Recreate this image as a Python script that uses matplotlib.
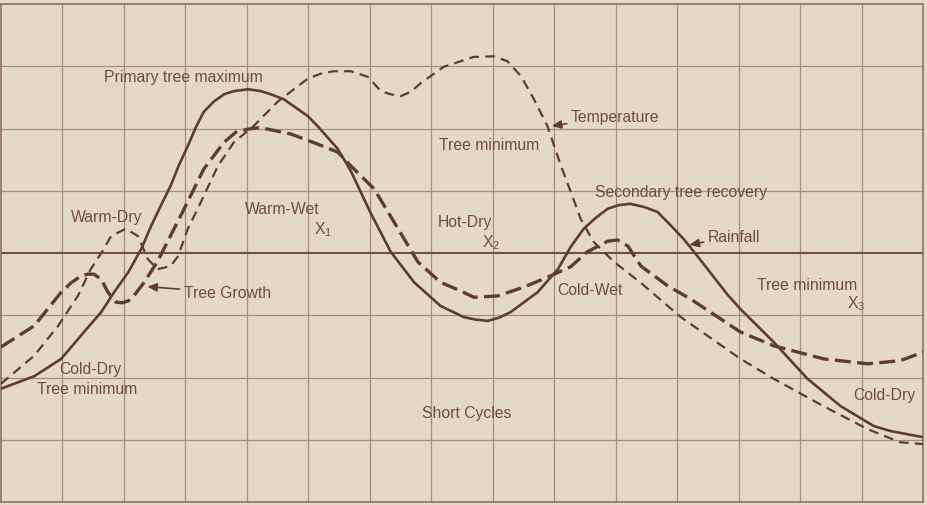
import numpy as np
import matplotlib.pyplot as plt

plt.rcParams['font.family'] = ['Liberation Sans', 'DejaVu Sans']
plt.rcParams['mathtext.default'] = 'regular'

# time in grid units (0-15), deviation from mean in grid units (-4..4)
tree_x = [0.00, 0.54, 0.98, 1.35, 1.63, 1.84, 2.07, 2.28, 2.44, 2.60, 2.76, 2.89, 3.04, 3.17,
          3.30, 3.46, 3.63, 3.79, 4.02, 4.23, 4.39, 4.60, 4.76, 4.99, 5.15, 5.48, 5.69, 6.02,
          6.34, 6.72, 7.15, 7.53, 7.72, 7.92, 8.10, 8.29, 8.73, 9.06, 9.27, 9.48, 9.67, 9.87,
          10.05, 10.24, 10.46, 10.68, 10.89, 11.11, 11.33, 11.82, 12.03, 12.57, 13.12, 13.66,
          14.20, 14.47, 15.01]
tree_y = [-2.18, -1.98, -1.70, -1.27, -0.95, -0.63, -0.31, 0.06, 0.43, 0.76, 1.08, 1.40, 1.72,
          2.02, 2.27, 2.43, 2.55, 2.60, 2.63, 2.60, 2.55, 2.47, 2.36, 2.20, 2.04, 1.67, 1.32,
          0.63, 0.02, -0.47, -0.85, -1.03, -1.07, -1.09, -1.04, -0.95, -0.63, -0.26, 0.10,
          0.39, 0.56, 0.71, 0.77, 0.79, 0.74, 0.66, 0.45, 0.22, -0.05, -0.67, -0.90, -1.43,
          -2.02, -2.46, -2.78, -2.86, -2.96]

rain_x = [0.00, 0.54, 0.98, 1.14, 1.30, 1.41, 1.51, 1.63, 1.74, 1.87, 1.97, 2.07, 2.16, 2.33,
          2.55, 2.98, 3.30, 3.63, 3.82, 4.02, 4.18, 4.34, 4.72, 5.15, 5.48, 5.69, 6.07, 6.46,
          6.78, 7.15, 7.48, 7.69, 8.08, 8.50, 8.89, 9.27, 9.54, 9.87, 10.03, 10.20, 10.41,
          10.85, 11.22, 12.03, 12.57, 13.38, 14.10, 14.63, 15.01]
rain_y = [-1.51, -1.17, -0.63, -0.48, -0.37, -0.34, -0.34, -0.42, -0.63, -0.79, -0.80, -0.77,
          -0.69, -0.47, -0.13, 0.71, 1.35, 1.78, 1.94, 1.99, 2.01, 1.99, 1.91, 1.75, 1.62, 1.40,
          1.03, 0.39, -0.14, -0.47, -0.61, -0.71, -0.69, -0.55, -0.39, -0.22, 0.02, 0.19,
          0.21, 0.11, -0.21, -0.53, -0.74, -1.27, -1.49, -1.70, -1.78, -1.73, -1.59]

temp_x = [0.00, 0.54, 0.93, 1.25, 1.46, 1.67, 1.79, 2.03, 2.23, 2.39, 2.55, 2.76, 2.88, 3.04,
          3.20, 3.53, 3.79, 4.11, 4.50, 4.99, 5.20, 5.41, 5.69, 5.97, 6.18, 6.34, 6.50, 6.67,
          6.83, 7.20, 7.69, 8.02, 8.24, 8.46, 8.67, 8.89, 9.11, 9.27, 9.43, 9.64, 9.97, 10.41,
          11.06, 12.03, 12.57, 13.38, 14.10, 14.63, 15.01]
temp_y = [-2.10, -1.65, -1.17, -0.69, -0.26, 0.06, 0.27, 0.39, 0.27, -0.10, -0.26, -0.21,
          -0.05, 0.39, 0.71, 1.40, 1.78, 2.04, 2.43, 2.80, 2.88, 2.92, 2.92, 2.83, 2.60, 2.55,
          2.52, 2.59, 2.73, 2.99, 3.15, 3.16, 3.08, 2.84, 2.47, 2.04, 1.40, 0.98, 0.55, 0.18,
          -0.14, -0.48, -1.03, -1.70, -2.02, -2.46, -2.83, -3.04, -3.07]

# label text, x, y
labels = [
    ('Primary tree maximum', 2.96, 2.83),
    ('Tree minimum', 7.94, 1.75),
    ('Secondary tree recovery', 11.06, 0.99),
    ('Warm-Dry', 1.72, 0.58),
    ('Warm-Wet', 4.57, 0.71),
    ('X$_1$', 5.24, 0.39),
    ('Hot-Dry', 7.54, 0.50),
    ('X$_2$', 7.97, 0.18),
    ('Cold-Wet', 9.58, -0.59),
    ('Tree minimum', 13.11, -0.50),
    ('X$_3$', 13.92, -0.79),
    ('Cold-Dry', 14.37, -2.28),
    ('Short Cycles', 7.58, -2.57),
    ('Cold-Dry', 1.45, -1.86),
    ('Tree minimum', 1.40, -2.18),
]
# arrow labels: text, text x, text y, tip x, tip y
arrows = [
    ('Temperature', 9.27, 2.20, 8.96, 2.04),
    ('Rainfall', 11.50, 0.27, 11.20, 0.13),
    ('Tree Growth', 2.97, -0.64, 2.38, -0.54),
]

bg = '#e4dac4'
ink = '#5e3c36'
txt = '#6e4c46'

fig = plt.figure(figsize=(9.27, 5.06), dpi=100, facecolor=bg)
ax = fig.add_axes([1 / 927, 3 / 506, 922 / 927, 498 / 506])
ax.set_facecolor(bg)
ax.set_xlim(0, 15)
ax.set_ylim(-4, 4)

for gx in range(1, 15):
    ax.axvline(gx, color='#a38f80', lw=0.9, zorder=1)
for gy in range(-3, 4):
    if gy != 0:
        ax.axhline(gy, color='#a38f80', lw=0.9, zorder=1)
ax.axhline(0, color='#6e4f47', lw=1.5, zorder=1)

for s in ax.spines.values():
    s.set_color('#8a7264')
    s.set_linewidth(1.2)
ax.set_xticks([])
ax.set_yticks([])

ax.plot(tree_x, tree_y, color=ink, lw=1.9, solid_joinstyle='round', zorder=3)
ax.plot(rain_x, rain_y, color=ink, lw=2.4, linestyle=(0, (4.8, 1.9)), zorder=3)
ax.plot(temp_x, temp_y, color=ink, lw=1.6, linestyle=(0, (4.4, 2.8)), zorder=3)

for t, x, y in labels:
    ax.text(x, y, t, ha='center', va='center', fontsize=11.3, color=txt, zorder=4)

for t, x, y, tx, ty in arrows:
    ax.annotate(t, xy=(tx, ty), xytext=(x, y), ha='left', va='center', fontsize=11.3,
                color=txt, zorder=4,
                arrowprops=dict(arrowstyle='-|>,head_length=0.5,head_width=0.22',
                                color=ink, lw=1.2, shrinkA=1, shrinkB=0))

fig.savefig('out.png', dpi=100, facecolor=bg)
